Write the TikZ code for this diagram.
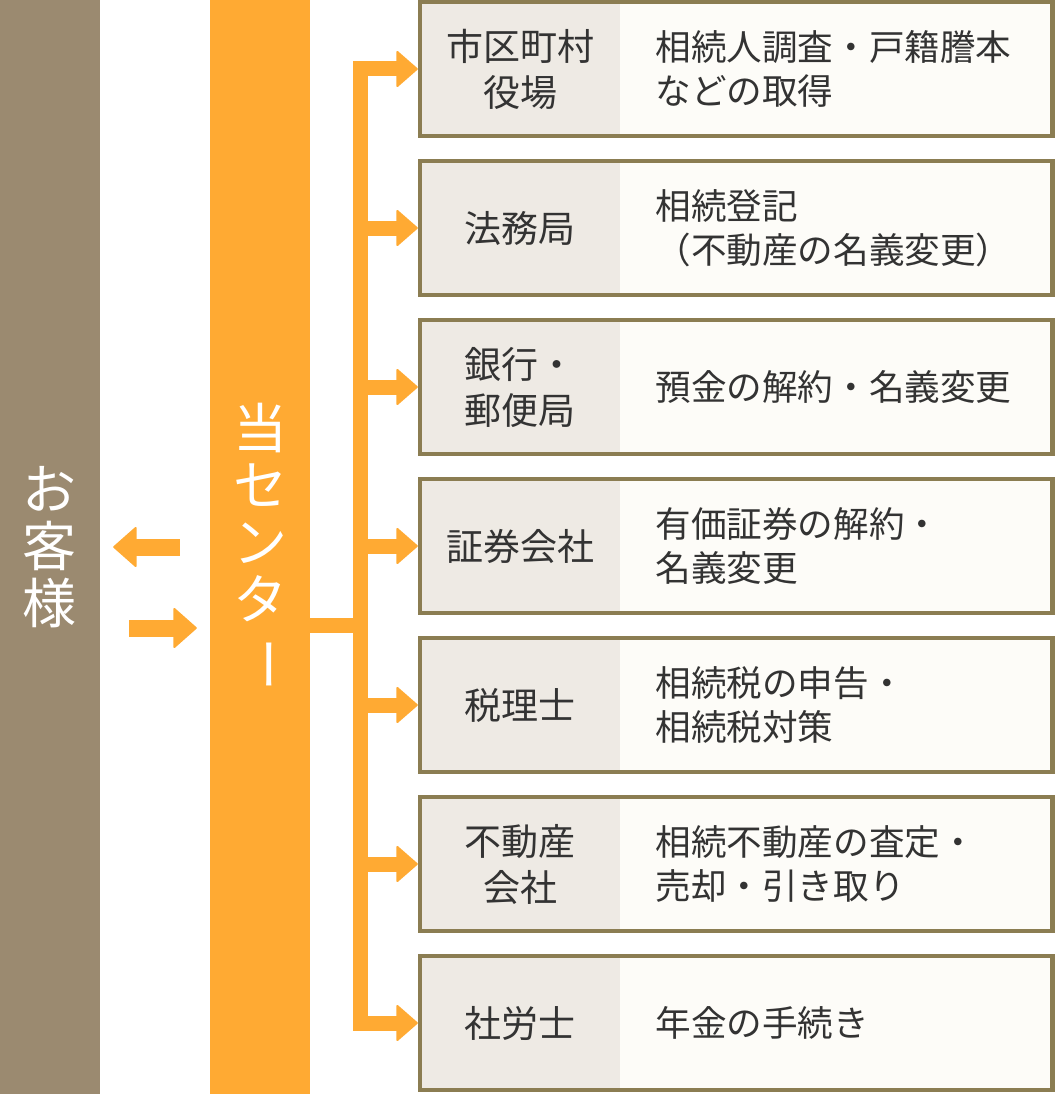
\documentclass[tikz,border=0pt]{standalone}
\usepackage{fontspec}
\usepackage{graphicx}
\usetikzlibrary{arrows.meta}
\newfontfamily\jpfont{Noto Sans CJK JP}
\definecolor{custbrown}{HTML}{9B8A70}
\definecolor{ctrorange}{HTML}{FFAA33}
\definecolor{framebrown}{HTML}{8B7D52}
\definecolor{orgfill}{HTML}{EEEAE4}
\definecolor{workfill}{HTML}{FDFCF8}
\definecolor{ink}{HTML}{333333}
\tikzset{
  bar/.style={minimum width=100pt, minimum height=1094pt, inner sep=0pt, text=white, align=center,
    font=\jpfont\fontsize{54}{57}\selectfont},
  org/.style={fill=orgfill, minimum width=200pt, minimum height=134pt, inner sep=0pt, text=ink,
    align=center, font=\jpfont\fontsize{37}{46}\selectfont},
  work/.style={anchor=west, fill=workfill, minimum height=134pt, text width=362pt, inner xsep=35pt,
    inner ysep=0pt, text=ink, align=left, font=\jpfont\fontsize{35.6}{44}\selectfont},
  frame/.style={draw=framebrown, line width=4.5pt},
  flow/.style={draw=ctrorange, line width=15pt, shorten >=2pt,
    -{Triangle[length=22pt,width=38pt,line width=2pt,round]}},
  back/.style={draw=ctrorange, line width=17pt,
    -{Triangle[length=24pt,width=42pt,line width=2pt,round]}},
}
\begin{document}
\begin{tikzpicture}[x=1pt, y=-1pt]
  \useasboundingbox (0,0) rectangle (1054,1094);
  \node [bar, fill=custbrown] (cust) at (50,547) {お\\客\\様};
  \node [bar, fill=ctrorange] (ctr) at (260,547) {当\\セ\\ン\\タ\\\rotatebox[origin=c]{-90}{ー}};
  % offices
  \foreach \i/\org/\work in {
      1/{市区町村\\役場}/{相続人調査・戸籍謄本\\などの取得},
      2/{法務局}/{相続登記\\（不動産の名義変更）},
      3/{銀行・\\郵便局}/{預金の解約・名義変更},
      4/{証券会社}/{有価証券の解約・\\名義変更},
      5/{税理士}/{相続税の申告・\\相続税対策},
      6/{不動産\\会社}/{相続不動産の査定・\\売却・引き取り},
      7/{社労士}/{年金の手続き}} {
    \pgfmathsetmacro\yc{69+159*(\i-1)}
    \node [org] (o\i) at (520,\yc) {\org};
    \node [work] (w\i) at (o\i.east) {\work};
    \draw [frame] (o\i.north west) rectangle (w\i.south east);
    \coordinate (sp\i) at (360.5,\yc);
    \draw [flow] (sp\i) -- (o\i.west);
  }
  \coordinate (hub) at (360.5,625);
  \draw [ctrorange, line width=15pt, line cap=rect] (sp1) -- (sp7);
  \draw [ctrorange, line width=15pt] (ctr.east |- hub) -- (hub);
  % to and from the customer
  \draw [back, shorten <=30pt, shorten >=13pt] (ctr.west |- 0,547) -- (cust.east |- 0,547);
  \draw [back, shorten <=29pt, shorten >=13pt] (cust.east |- 0,628) -- (ctr.west |- 0,628);
\end{tikzpicture}
\end{document}
